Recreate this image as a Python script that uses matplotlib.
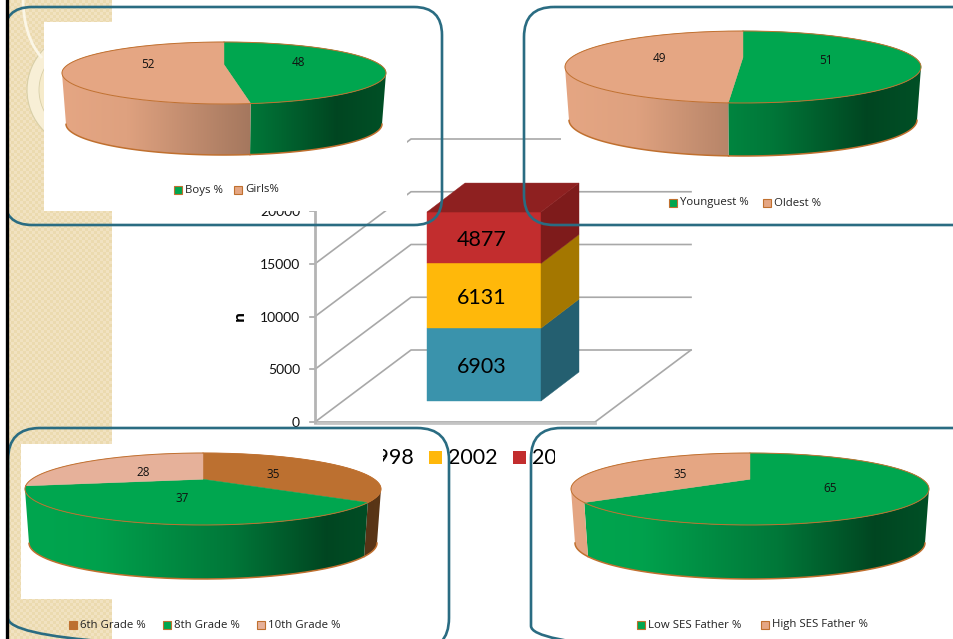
import numpy as np
import matplotlib
matplotlib.use('Agg')
import matplotlib.pyplot as plt
from matplotlib.patches import Polygon, Rectangle, Circle, FancyBboxPatch, PathPatch
from matplotlib.path import Path

# bar chart
years = ['1998', '2002', '2006']
bar_values = [6903, 6131, 4877]
y_ticks = [0, 5000, 10000, 15000, 20000]

# pies
boys_girls = [48, 52]
boys_girls_names = ['Boys %', 'Girls%']
young_old = [51, 49]
young_old_names = ['Younguest %', 'Oldest %']
grades = [35, 37, 28]
grades_names = ['6th Grade %', '8th Grade %', '10th Grade %']
ses_father = [65, 35]
ses_father_names = ['Low SES Father %', 'High SES Father %']

GREEN = '#00A64F'
PEACH = '#E5A683'
BROWN = '#BC7030'
LIGHT = '#E6B19A'
RIM = '#C0702F'
BOX = '#2A6C82'
GREY = '#A8A8A8'
PERSP = 0.27

fig = plt.figure(figsize=(9.54, 6.39), dpi=100)
ax = fig.add_axes([0, 0, 1, 1])
ax.axis('off')


def reset_view():
    ax.set_xlim(0, 954)
    ax.set_ylim(639, 0)
    ax.set_aspect('auto')


# disc is seen from above and a little in perspective, so the centre sits high
def rim(angles):
    u = np.sin(angles)
    v = np.cos(angles)
    d = 1 + PERSP * v
    return u * np.sqrt(1 - PERSP ** 2) / d, (v + PERSP) / d


def shade(frac):
    return np.interp(frac, [0, 0.2, 0.58, 0.85, 1], [1, 0.97, 0.72, 0.42, 0.48])


def draw_pie(values, colors, cx, cy, rx, ry, depth, z):
    total = float(sum(values))
    start = 0.0
    xs = np.linspace(0, 1, 200)
    for val, col in zip(values, colors):
        end = start + val / total * 2 * np.pi
        a = np.linspace(start, end, 200)
        u, v = rim(a)
        tx = cx + rx * u
        ty = cy - ry * v
        # side wall, only the front part of the rim
        front = v <= 0
        if front.any():
            top = np.column_stack([tx[front], ty[front]])
            low = np.column_stack([cx + (rx - 4) * u[front], cy - ry * v[front] + depth])
            wall = Polygon(np.vstack([top, low[::-1]]), closed=True, transform=ax.transData,
                           facecolor='none', edgecolor='none', zorder=z)
            ax.add_patch(wall)
            rgb = np.array(matplotlib.colors.to_rgb(col))
            grad = np.outer(shade(xs), rgb)[None, :, :]
            im = ax.imshow(grad, extent=[cx - rx, cx + rx, cy + ry + depth, cy - ry],
                           aspect='auto', zorder=z)
            im.set_clip_path(wall)
            ax.plot(low[:, 0], low[:, 1], color=RIM, lw=1.1, zorder=z + 0.1)
        poly = np.vstack([[cx, cy - ry * PERSP], np.column_stack([tx, ty])])
        ax.add_patch(Polygon(poly, closed=True, facecolor=col, edgecolor=col, lw=0.3, zorder=z + 0.2))
        ax.plot(tx, ty, color=RIM, lw=0.7, zorder=z + 0.3)
        start = end
    reset_view()


def pie_labels(values, spots, z):
    for val, (x, y) in zip(values, spots):
        ax.text(x, y, str(val), ha='center', va='center', fontsize=8.5, family='Open Sans',
                color='#111111', zorder=z + 0.5)


def pie_legend(names, colors, squares, y, z):
    for name, col, x in zip(names, colors, squares):
        ax.add_patch(Rectangle((x, y - 4), 8, 8, facecolor=col, edgecolor=RIM, lw=0.8, zorder=z + 0.5))
        ax.text(x + 11, y, name, ha='left', va='center', fontsize=8.2, family='Open Sans',
                color='#222222', zorder=z + 0.5)


# background strip with the woven texture
yy, xx = np.indices((213, 35))
tex = ((xx + yy) % 2)[:, :, None] * np.array([0.024, 0.035, 0.07]) + np.array([0.925, 0.855, 0.69])
ax.imshow(tex, extent=[8, 112, 639, 0], aspect='auto', interpolation='nearest', zorder=0)
ax.add_patch(Circle((85, 90), 58, facecolor='#F8EFD6', edgecolor='#D8CFA8', lw=0.8, zorder=0.5))
ax.add_patch(Circle((85, 90), 46, facecolor='#F6EBCB', edgecolor='#D8CFA8', lw=0.6, zorder=0.6))
ax.add_patch(PathPatch(Path([(23, 0), (24, 38), (42, 58)], [Path.MOVETO, Path.CURVE3, Path.CURVE3]),
                       facecolor='none', edgecolor='#FBF6E6', lw=2, zorder=0.7))

# 3D stacked bar: one scale for wall, axis and bar
px_per_unit = 52.75 / 5000
def wall_y(v, base):
    return base - v * px_per_unit

front_y, back_y, bar_y = 422, 350, 401
for v in y_ticks:
    fy = wall_y(v, front_y)
    by = wall_y(v, back_y)
    ax.plot([315, 411, 691], [fy, by, by], color=GREY, lw=1.2, zorder=1)
    ax.plot([310, 315], [fy, fy], color=GREY, lw=1.2, zorder=1)
    ax.text(300, fy + 1, str(v), ha='right', va='center', fontsize=10, family='Lato', color='#111111', zorder=1)
ax.plot([315, 315], [wall_y(y_ticks[-1], front_y), front_y], color='#B4B4B4', lw=2, zorder=1.1)
ax.plot([315, 595, 691], [front_y, front_y, back_y], color=GREY, lw=1.2, zorder=1)
ax.plot([315, 595], [front_y + 1, front_y + 1], color='#C4C4C4', lw=2, zorder=1)
ax.text(240, 316, 'n', rotation=90, ha='center', va='center', fontsize=11, fontweight='bold',
        family='Open Sans', zorder=1)

fronts = ['#3A93AC', '#FFB80A', '#C22D2E']
sides = ['#245F70', '#A47700', '#7E1B1B']
x0, x1, dx, dy = 427, 541, 38, 29
bottom = 0
for val, fc, sc in zip(bar_values, fronts, sides):
    lo = wall_y(bottom, bar_y)
    hi = wall_y(bottom + val, bar_y)
    ax.add_patch(Polygon([(x0, lo), (x1, lo), (x1, hi), (x0, hi)], facecolor=fc, edgecolor=fc, lw=0.3, zorder=2))
    ax.add_patch(Polygon([(x1, lo), (x1 + dx, lo - dy), (x1 + dx, hi - dy), (x1, hi)], facecolor=sc,
                         edgecolor=sc, lw=0.3, zorder=2))
    ax.text((x0 + x1) / 2 - 2, (lo + hi) / 2 + 2, str(val), ha='center', va='center', fontsize=15.5,
            family='Lato', color='black', zorder=2.1)
    bottom += val
top = wall_y(bottom, bar_y)
ax.add_patch(Polygon([(x0, top), (x1, top), (x1 + dx, top - dy), (x0 + dx, top - dy)], facecolor='#8E2020',
                     edgecolor='#8E2020', lw=0.3, zorder=2))

# legend of the bar chart, the pies sit on top of it
for year, col, sq in zip(years, fronts, [345, 429, 513]):
    ax.add_patch(Rectangle((sq, 451), 13, 13, facecolor=col, edgecolor='none', zorder=1))
    ax.text(sq + 19, 458, year, ha='left', va='center', fontsize=15.5, family='Lato', color='black', zorder=1)

# white chart areas
for x, y, w, h in [(44, 22, 363, 189), (561, 20, 393, 145), (21, 444, 362, 155), (555, 444, 399, 166)]:
    ax.add_patch(Rectangle((x, y), w, h, facecolor='white', edgecolor='none', zorder=3))

c = [GREEN, PEACH]
draw_pie(boys_girls, c, 224, 73, 162, 31, 51, 4)
pie_labels(boys_girls, [(298, 63), (148, 64)], 4)
pie_legend(boys_girls_names, c, [174, 234], 190, 4)

draw_pie(young_old, c, 743, 67, 178, 36, 53, 4)
pie_labels(young_old, [(826, 60), (659, 59)], 4)
pie_legend(young_old_names, c, [669, 763], 203, 4)

c3 = [BROWN, GREEN, LIGHT]
draw_pie(grades, c3, 203, 489, 178, 36, 54, 4)
pie_labels(grades, [(273, 474), (182, 498), (143, 472)], 4)
pie_legend(grades_names, c3, [69, 163, 257], 625, 4)

draw_pie(ses_father, c, 750, 489, 179, 36, 54, 4)
pie_labels(ses_father, [(830, 489), (680, 474)], 4)
pie_legend(ses_father_names, c, [637, 761], 625, 4)

# rounded frames on top of everything
for x, y, w, h, r in [(4, 7, 438, 218, 28), (524, 7, 470, 218, 30), (8, 428, 441, 222, 32), (531, 428, 470, 228, 30)]:
    ax.add_patch(FancyBboxPatch((x + r, y + r), w - 2 * r, h - 2 * r,
                                boxstyle='round,pad=%d,rounding_size=%d' % (r, r),
                                facecolor='none', edgecolor=BOX, lw=1.9, zorder=8))

# nothing shows left of the black slide edge
ax.add_patch(Rectangle((0, 0), 7, 639, facecolor='white', edgecolor='none', zorder=8.5))
ax.plot([7, 7], [0, 639], color='black', lw=2.4, zorder=9)

reset_view()
fig.savefig('out.png', dpi=100)
